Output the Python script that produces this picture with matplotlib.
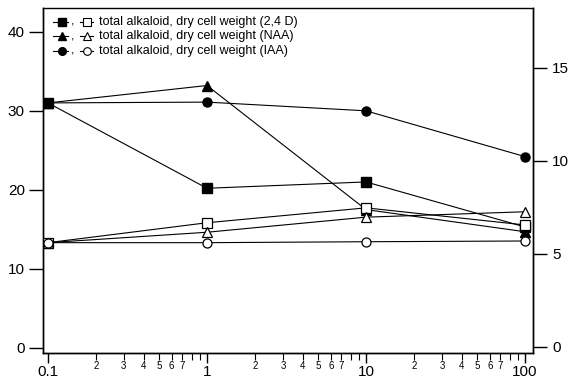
import numpy as np
import matplotlib
matplotlib.use("Agg")
import matplotlib.pyplot as plt
from matplotlib.ticker import FixedLocator, FuncFormatter

plt.rcParams['font.family'] = ['Liberation Sans', 'DejaVu Sans']

# hormone concentration (log axis)
conc = [0.1, 1, 10, 100]

# total alkaloid (left axis)
alk_24d = [31, 20.2, 21, 15.3]
alk_naa = [31, 33.2, 17.5, 14.7]
alk_iaa = [31, 31.1, 30, 24.2]

# dry cell weight (right axis)
dcw_24d = [5.6, 6.67, 7.47, 6.55]
dcw_naa = [5.6, 6.16, 6.97, 7.26]
dcw_iaa = [5.6, 5.6, 5.65, 5.69]

legend_labels = ["total alkaloid, dry cell weight (2,4 D)",
                 "total alkaloid, dry cell weight (NAA)",
                 "total alkaloid, dry cell weight (IAA)"]
marks = ["s", "^", "o"]

fig = plt.figure(figsize=(5.73, 3.84), dpi=100)
ax = fig.add_axes([0.075, 0.081, 0.855, 0.898])
ax2 = ax.twinx()

lw = 0.8
ms = 6.5
for y, m in zip([alk_24d, alk_naa, alk_iaa], marks):
    ax.plot(conc, y, color="black", lw=lw, marker=m, ms=ms, mfc="black", mec="black", zorder=3)
for y, m in zip([dcw_24d, dcw_naa, dcw_iaa], marks):
    ax2.plot(conc, y, color="black", lw=lw, marker=m, ms=ms, mfc="white", mec="black", mew=0.9, zorder=4)

ax.set_xscale("log")
ax.set_xlim(0.093, 112)
ax.set_ylim(-0.63, 43.0)
ax2.set_ylim(-0.32, 18.2)

ax.set_yticks([0, 10, 20, 30, 40])
ax2.set_yticks([0, 5, 10, 15])
ax.xaxis.set_major_locator(FixedLocator(conc))
ax.xaxis.set_major_formatter(FuncFormatter(lambda v, p: "%g" % v))
minors = [k * 10.0 ** e for e in range(-1, 2) for k in range(2, 10)]
ax.xaxis.set_minor_locator(FixedLocator(minors))

def minor_fmt(v, p):
    k = int(round(v / 10 ** np.floor(np.log10(v) + 1e-9)))
    return str(k) if k <= 7 else ""

ax.xaxis.set_minor_formatter(FuncFormatter(minor_fmt))

ax.tick_params(axis="y", which="major", direction="out", length=10, width=1, labelsize=11, pad=3)
ax2.tick_params(axis="y", which="major", direction="out", length=10, width=1, labelsize=11, pad=4)
ax.tick_params(axis="x", which="major", direction="out", length=7, width=1, labelsize=11, pad=2)
ax.tick_params(axis="x", which="minor", direction="out", length=5, width=0.8, labelsize=7, pad=1)

for a in (ax, ax2):
    for s in a.spines.values():
        s.set_linewidth(1.0)
ax2.spines["top"].set_linewidth(0.5)

# legend drawn by hand: filled marker, comma, open marker, text
rows_y = [0.960, 0.918, 0.876]
for yy, m, lab in zip(rows_y, marks, legend_labels):
    ax.plot([0.02, 0.051], [yy, yy], transform=ax.transAxes, color="black", lw=lw, zorder=5)
    ax.plot([0.038], [yy], transform=ax.transAxes, color="black", lw=0,
            marker=m, ms=5.5, mfc="black", mec="black", zorder=6)
    ax.text(0.056, yy, ",", transform=ax.transAxes, fontsize=9, va="center", ha="left")
    ax.plot([0.076, 0.102], [yy, yy], transform=ax.transAxes, color="black", lw=lw, zorder=5)
    ax.plot([0.089], [yy], transform=ax.transAxes, color="black", lw=0,
            marker=m, ms=5.5, mfc="white", mec="black", mew=0.8, zorder=6)
    ax.text(0.114, yy, lab, transform=ax.transAxes, fontsize=9, va="center", ha="left")

fig.savefig("out.png", dpi=100)
